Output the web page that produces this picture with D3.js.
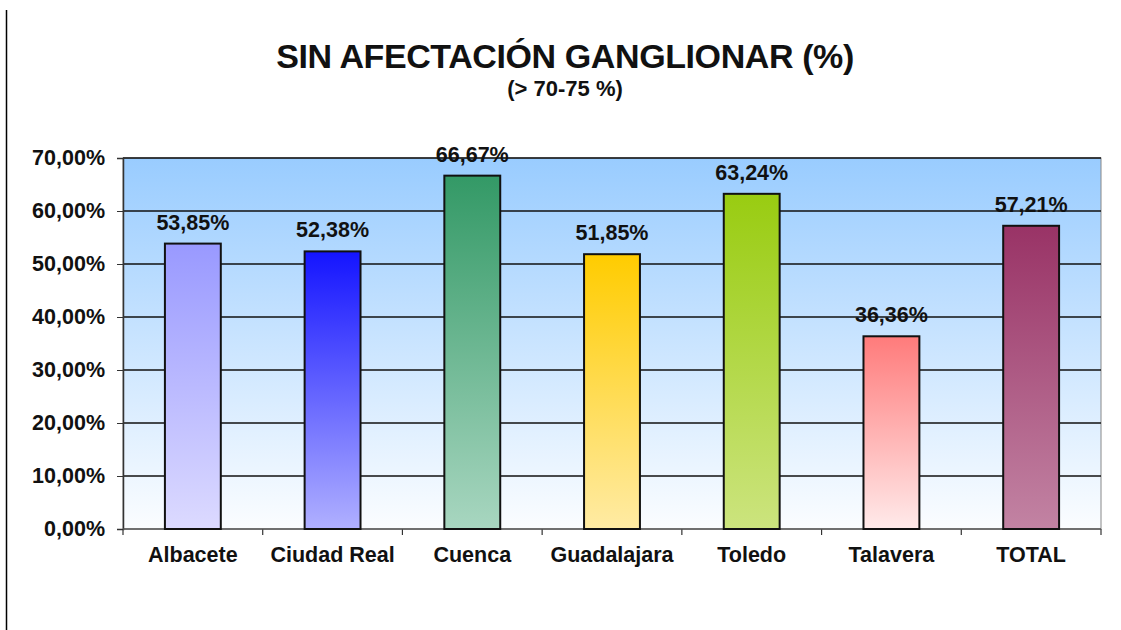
<!DOCTYPE html>
<html>
<head>
<meta charset="utf-8">
<script src="https://cdn.jsdelivr.net/npm/d3@7"></script>
<style>
    body { margin: 0; background: #fff; }
    text { font-family: "Liberation Sans", Arial, sans-serif; font-weight: bold; fill: #111; }
</style>
</head>
<body>
<div class="chart"></div>
<script>
const categories = ['Albacete', 'Ciudad Real', 'Cuenca', 'Guadalajara', 'Toledo', 'Talavera', 'TOTAL']
const values = [53.85, 52.38, 66.67, 51.85, 63.24, 36.36, 57.21]
const topColors = ['#9999ff', '#1414ff', '#339966', '#ffcc00', '#99cc11', '#ff7b7b', '#993366']
const bottomColors = ['#dcdaff', '#b0b0ff', '#a8d6c0', '#ffeba4', '#cce47e', '#ffeaea', '#c283a3']
const yTicks = [0, 10, 20, 30, 40, 50, 60, 70]

const width = 1121,
    height = 630
const margin = { top: 158, right: 20, bottom: 101, left: 123 }
const plotW = 1101 - margin.left
const plotH = 529 - margin.top
const labelSize = '21.5px'

const fmt = v => v.toFixed(2).replace('.', ',')

const svg = d3.select('.chart').append('svg')
    .attr('width', width)
    .attr('height', height)

// линия слева
svg.append('line')
    .attr('x1', 6.5).attr('x2', 6.5)
    .attr('y1', 10).attr('y2', height)
    .style('stroke', '#000')
    .style('stroke-width', 1.5)

const defs = svg.append('defs')
const bg = defs.append('linearGradient')
    .attr('id', 'bg')
    .attr('x1', 0).attr('x2', 0).attr('y1', 0).attr('y2', 1)
bg.append('stop').attr('offset', '0%').attr('stop-color', '#99ccff')
bg.append('stop').attr('offset', '100%').attr('stop-color', '#fbfdff')

categories.forEach((c, i) => {
    const gr = defs.append('linearGradient')
        .attr('id', 'bar' + i)
        .attr('x1', 0).attr('x2', 0).attr('y1', 0).attr('y2', 1)
    gr.append('stop').attr('offset', '0%').attr('stop-color', topColors[i])
    gr.append('stop').attr('offset', '100%').attr('stop-color', bottomColors[i])
})

// заголовок
svg.append('text')
    .attr('x', 565)
    .attr('y', 68)
    .style('text-anchor', 'middle')
    .style('font-size', '34px')
    .style('letter-spacing', '-0.4px')
    .text('SIN AFECTACIÓN GANGLIONAR (%)')
svg.append('text')
    .attr('x', 565)
    .attr('y', 96)
    .style('text-anchor', 'middle')
    .style('font-size', '22px')
    .text('(> 70-75 %)')

const g = svg.append('g')
    .attr('transform', 'translate(' + margin.left + ',' + margin.top + ')')

const x = d3.scaleBand()
    .domain(categories)
    .range([0, plotW])
    .paddingInner(0.6)
    .paddingOuter(0.3)

const y = d3.scaleLinear()
    .domain([0, 70])
    .range([plotH, 0])

g.append('rect')
    .attr('width', plotW)
    .attr('height', plotH)
    .style('fill', 'url(#bg)')
    .style('stroke', '#888')
    .style('stroke-width', 1)

// сетка
g.selectAll('.grid')
    .data(yTicks.slice(1))
    .enter().append('line')
    .attr('class', 'grid')
    .attr('x1', 0).attr('x2', plotW)
    .attr('y1', d => y(d)).attr('y2', d => y(d))
    .style('stroke', '#111')
    .style('stroke-width', 1.5)

// оси
const yAxis = g.append('g')
    .call(d3.axisLeft(y).tickValues(yTicks).tickSize(6).tickFormat(d => fmt(d) + '%'))
yAxis.select('.domain').style('stroke', '#333').style('stroke-width', 1.5)
yAxis.selectAll('.tick line').style('stroke', '#333')
yAxis.selectAll('text')
    .attr('x', -18)
    .style('font-size', labelSize)
    .style('font-family', '"Liberation Sans", Arial, sans-serif')
    .style('font-weight', 'bold')
    .style('fill', '#111')

const boundaries = d3.range(categories.length + 1).map(i => i * plotW / categories.length)
g.selectAll('.xtick')
    .data(boundaries)
    .enter().append('line')
    .attr('class', 'xtick')
    .attr('x1', d => d).attr('x2', d => d)
    .attr('y1', plotH).attr('y2', plotH + 6)
    .style('stroke', '#333')
    .style('stroke-width', 1.2)
g.append('line')
    .attr('x1', 0).attr('x2', plotW)
    .attr('y1', plotH).attr('y2', plotH)
    .style('stroke', '#555')
    .style('stroke-width', 1.5)

g.selectAll('.xlabel')
    .data(categories)
    .enter().append('text')
    .attr('class', 'xlabel')
    .attr('x', d => x(d) + x.bandwidth() / 2)
    .attr('y', plotH + 33)
    .style('text-anchor', 'middle')
    .style('font-size', labelSize)
    .text(d => d)

// столбцы
g.selectAll('.bar')
    .data(values)
    .enter().append('rect')
    .attr('class', 'bar')
    .attr('x', (d, i) => x(categories[i]))
    .attr('y', d => y(d))
    .attr('width', x.bandwidth())
    .attr('height', d => plotH - y(d))
    .style('fill', (d, i) => 'url(#bar' + i + ')')
    .style('stroke', '#111')
    .style('stroke-width', 2)

g.selectAll('.val')
    .data(values)
    .enter().append('text')
    .attr('class', 'val')
    .attr('x', (d, i) => x(categories[i]) + x.bandwidth() / 2)
    .attr('y', d => y(d) - 14)
    .style('text-anchor', 'middle')
    .style('font-size', labelSize)
    .text(d => fmt(d) + '%')
</script>
</body>
</html>
